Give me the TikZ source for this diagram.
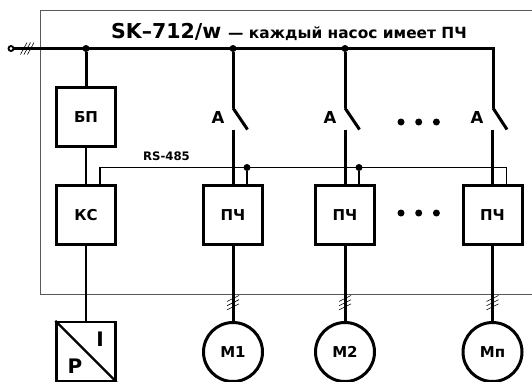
\documentclass[tikz,border=0pt]{standalone}
\usepackage{fontspec}
\setmainfont{DejaVu Sans}
\usepackage{tikz}
\usetikzlibrary{positioning,calc}
\tikzset{
  unit/.style={draw,line width=3pt,minimum width=59pt,minimum height=59pt,inner sep=0pt,font=\bfseries\fontsize{15}{15}\selectfont},
  motor/.style={draw,circle,line width=3pt,minimum size=59pt,inner sep=0pt,font=\bfseries\fontsize{15}{15}\selectfont},
  power/.style={line width=3pt},
  signal/.style={line width=1.9pt},
  junction/.style={circle,fill=black,inner sep=0pt,minimum size=7pt},
  tick/.style={line width=0.6pt},
  gapdot/.style={circle,fill=black,inner sep=0pt,minimum size=7pt},
  frameline/.style={draw=black!65,line width=1pt},
  caption/.style={font=\bfseries\fontsize{#1}{#1}\selectfont,inner sep=0pt}
}
\begin{document}
\begin{tikzpicture}[x=1pt,y=-1pt]
        \useasboundingbox (0,0) rectangle (532,381);
        \begin{scope}
        \clip (0,0) rectangle (532,381);
        % frame, open on the right
        \draw[frameline] (532,10.5) -- (40.5,10.5) -- (40.5,294.5) -- (532,294.5);
        \node[caption=20.5,anchor=base west] (title) at (111,38) {SK–712/w};
        \node[caption=15.4,anchor=base west] (subtitle) at (228,38) {— каждый насос имеет ПЧ};
        % mains
        \node[draw,circle,line width=1.8pt,minimum size=5pt,inner sep=0pt] (mains) at (11,48.5) {};
        \coordinate (busend) at (493,48.5);
        \draw[power] (mains) -- (busend) -- (493,108) coordinate (top3);
        \foreach \s in {0,1,2}{\draw[tick] (20.5+3.5*\s,54.5) -- (27+3.5*\s,42.5);}
        % supply and controller
        \node[unit] (bp) at (86,117) {БП};
        \node[unit] (ks) at (86,215) {КС};
        \node[unit,line width=2.4pt] (pi) at (86,351.5) {};
        \node[junction] (jbp) at (86,48.5) {};
        \draw[power] (jbp) -- (bp);
        \draw[signal] (bp) -- (ks);
        \draw[signal] (ks) -- (pi);
        \draw[line width=2.4pt] (pi.north west) -- (pi.south east);
        \node[caption=20] (pitext) at (100,339) {I};
        \node[caption=20] (ptext) at (75,366) {P};
        % pump branches
        \node[unit] (pc1) at (233,215) {ПЧ};
        \node[unit] (pc2) at (345,215) {ПЧ};
        \node[unit] (pc3) at (492.5,215) {ПЧ};
        \node[motor] (m1) at (233,352) {М1};
        \node[motor] (m2) at (345,352) {М2};
        \node[motor] (m3) at (492.5,352) {Мп};
        \node[junction] (j1) at (233,48.5) {};
        \node[junction] (j2) at (345,48.5) {};
        \coordinate (top1) at (233,108);
        \coordinate (top2) at (345,108);
        \foreach \s/\t in {1/j1,2/j2}{\draw[power] (\t) -- (top\s);}
        \foreach \s/\x/\l in {1/233/218,2/345/330,3/492.5/477}{
          \coordinate (low\s) at (\x,129.5);
          \coordinate (blade\s) at (\x+14.5,129.5);
          \draw[power] (top\s) -- (blade\s);
          \draw[power] (low\s) -- (pc\s);
          \draw[power] (pc\s) -- (m\s);
          \node[caption=16.5] (a\s) at (\l,117) {A};
          \foreach \k in {0,1,2}{\draw[tick] (\x-6,301.5+4.2*\k) -- (\x+6,295.5+4.2*\k);}
        }
        % RS-485 link
        \node[caption=11.7] (rs) at (166.5,156.5) {RS-485};
        \coordinate (rsa) at (100,167.5);
        \coordinate (rsb) at (506.5,167.5);
        \draw[signal] (rsa|-ks.north) -- (rsa) -- (rsb) -- (rsb|-pc3.north);
        \node[junction] (d1) at (247,167.5) {};
        \node[junction] (d2) at (359,167.5) {};
        \draw[signal] (d1) -- (d1|-pc1.north);
        \draw[signal] (d2) -- (d2|-pc2.north);
        % gaps between pumps
        \foreach \s in {0,1,2}{
          \node[gapdot] (gu\s) at (401+17.7*\s,122) {};
          \node[gapdot] (gl\s) at (401+17.7*\s,213) {};
        }
        \end{scope}
      \end{tikzpicture}
\end{document}
